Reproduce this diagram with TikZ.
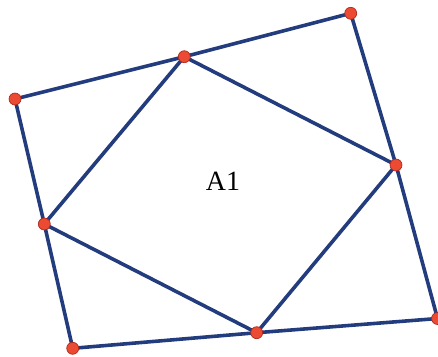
\documentclass[tikz,border=0pt]{standalone}
\usepackage{fontspec}
\setmainfont{Liberation Serif}
\usepackage{tikz}

\definecolor{edgeblue}{RGB}{34,60,125}
\definecolor{dotred}{RGB}{235,75,50}
\definecolor{dotrim}{RGB}{175,40,30}

\tikzset{
    side/.style={edgeblue,line width=3.6pt,line cap=round,line join=round},
    dot/.style={circle,fill=dotred,draw=dotrim,line width=0.7pt,inner sep=0pt,minimum size=12pt}
}

\begin{document}
\begin{tikzpicture}[x=1bp,y=-1bp]
    \useasboundingbox (0,0) rectangle (438,356);
    \clip (0,0) rectangle (438,356);

    % corners of the outer square
    \coordinate (tr) at (350.7,13.3);
    \coordinate (tl) at (15,99);
    \coordinate (bl) at (72.7,348.3);
    \coordinate (br) at (437.5,318.5);
    % corners of the inner square
    \coordinate (top) at (184.3,56.7);
    \coordinate (rgt) at (396,165);
    \coordinate (bot) at (256.7,332.7);
    \coordinate (lft) at (44.3,224);

    \draw[side] (tl) -- (top) -- (tr) -- (rgt) -- (br) -- (bot) -- (bl) -- (lft) -- cycle;
    \draw[side] (top) -- (rgt) -- (bot) -- (lft) -- cycle;

    \foreach \p in {tr,tl,bl,br,top,rgt,bot,lft}
        \node[dot] at (\p) {};

    \node (area) at (223,181) {\fontsize{28}{32}\selectfont A1};
\end{tikzpicture}
\end{document}
